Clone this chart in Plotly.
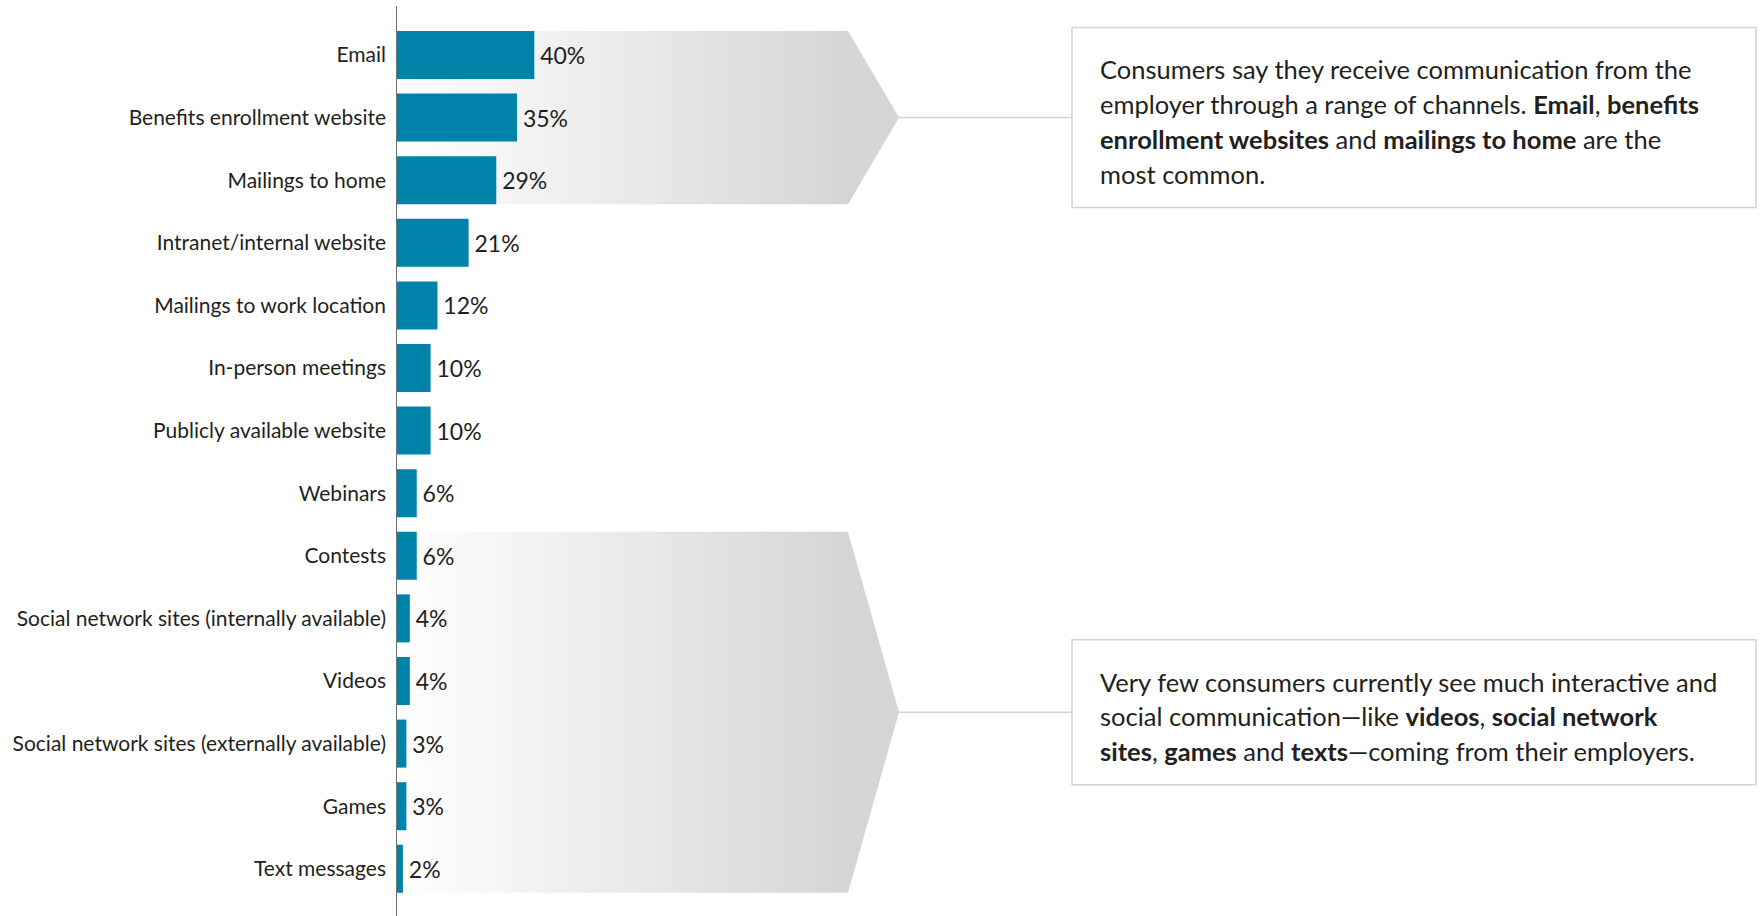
import plotly.graph_objects as go

# Share of consumers receiving employer communication via each channel (%)
categories = [
    "Email",
    "Benefits enrollment website",
    "Mailings to home",
    "Intranet/internal website",
    "Mailings to work location",
    "In-person meetings",
    "Publicly available website",
    "Webinars",
    "Contests",
    "Social network sites (internally available)",
    "Videos",
    "Social network sites (externally available)",
    "Games",
    "Text messages",
]
shares = [40, 35, 29, 21, 12, 10, 10, 6, 6, 4, 4, 3, 3, 2]
share_labels = [f"{v}%" for v in shares]

# Category index ranges highlighted by the chevrons
groups = [(0, 2), (8, 13)]

callout_top = [
    "Consumers say they receive communication from the",
    "employer through a range of channels. <b>Email</b>, <b>benefits</b>",
    "<b>enrollment websites</b> and <b>mailings to home</b> are the",
    "most common.",
]
callout_bottom = [
    "Very few consumers currently see much interactive and",
    "social communication\u2014like <b>videos</b>, <b>social network</b>",
    "<b>sites</b>, <b>games</b> and <b>texts</b>\u2014coming from their employers.",
]
callouts = [callout_top, callout_bottom]
box_half_px = [90, 72.5]

# ---- page geometry (pixels) ----
W, H = 1762, 916
PLOT_LEFT = 396
PX_PER_PCT = 3.458
ROW_PX = 62.6
FIRST_ROW_PX = 55
BAR_W = 0.767

x_max = (W - PLOT_LEFT) / PX_PER_PCT
y_range = [(H - FIRST_ROW_PX) / ROW_PX, -FIRST_ROW_PX / ROW_PX]


def px_to_x(px):
    return (px - PLOT_LEFT) / PX_PER_PCT


BODY_END = px_to_x(848)
TIP = px_to_x(899)
BOX_LEFT_PX, BOX_RIGHT_PX = 1072, 1756
TEXT_LEFT_PX = 1098
LINE_PX = 34.8

BAR_COLOR = "#0083A9"
TEXT_COLOR = "#231F20"
FRAME_COLOR = "#D1D3D4"
LABEL_FONT = "Lato, Liberation Sans, sans-serif"
BODY_FONT = "Lato, Noto Sans, sans-serif"
LABEL_SIZE = 21
VALUE_SIZE = 23
BODY_SIZE = 25.5

fig = go.Figure()

# Gradient chevrons behind the bar groups (base subplot)
for a, b in groups:
    top = a - BAR_W / 2
    bot = b + BAR_W / 2
    mid = (top + bot) / 2
    fig.add_trace(go.Scatter(
        x=[0, BODY_END, TIP, BODY_END, 0, 0],
        y=[top, top, mid, bot, bot, top],
        mode="lines",
        line=dict(width=0, color="rgba(0,0,0,0)"),
        fill="toself",
        fillgradient=dict(
            type="horizontal",
            colorscale=[[0, "#FFFFFF"], [1, "#D4D5D7"]],
            start=0,
            stop=BODY_END,
        ),
        hoverinfo="skip",
        showlegend=False,
        xaxis="x",
        yaxis="y",
    ))

ypos = list(range(len(categories)))

# Bars on an overlaid subplot so they sit on top of the chevrons
fig.add_trace(go.Bar(
    x=shares,
    y=ypos,
    orientation="h",
    width=BAR_W,
    marker=dict(color=BAR_COLOR, line=dict(width=0)),
    text=share_labels,
    texttemplate="\u2009%{text}",
    textposition="outside",
    textfont=dict(family=LABEL_FONT, size=VALUE_SIZE, color=TEXT_COLOR),
    cliponaxis=False,
    hovertemplate="%{customdata}: %{x}%<extra></extra>",
    customdata=categories,
    showlegend=False,
    xaxis="x2",
    yaxis="y2",
))

shapes = [
    # vertical baseline of the bars
    dict(type="line", xref="x", yref="paper", x0=0, x1=0, y0=0, y1=1 - 6 / H,
         line=dict(color="#6D6E71", width=2), layer="above"),
]
annotations = []

for (a, b), lines, half in zip(groups, callouts, box_half_px):
    top = a - BAR_W / 2
    bot = b + BAR_W / 2
    mid = (top + bot) / 2
    # connector from chevron tip to callout box
    shapes.append(dict(type="line", xref="x", yref="y", x0=TIP, x1=px_to_x(BOX_LEFT_PX),
                       y0=mid, y1=mid, line=dict(color=FRAME_COLOR, width=1.5), layer="below"))
    shapes.append(dict(type="rect", xref="x", yref="y",
                       x0=px_to_x(BOX_LEFT_PX), x1=px_to_x(BOX_RIGHT_PX),
                       y0=mid - half / ROW_PX, y1=mid + half / ROW_PX,
                       line=dict(color=FRAME_COLOR, width=1.5), fillcolor="white", layer="below"))
    n = len(lines)
    for i, line in enumerate(lines):
        y_line = mid + ((i - (n - 1) / 2) * LINE_PX + 4) / ROW_PX
        annotations.append(dict(
            xref="x", yref="y", x=px_to_x(TEXT_LEFT_PX), y=y_line,
            xanchor="left", yanchor="middle", showarrow=False, align="left",
            text=line,
            font=dict(family=BODY_FONT, size=BODY_SIZE, color=TEXT_COLOR, weight=400),
        ))

fig.update_layout(
    width=W,
    height=H,
    margin=dict(l=PLOT_LEFT, r=0, t=0, b=0, autoexpand=False),
    paper_bgcolor="white",
    plot_bgcolor="white",
    showlegend=False,
    shapes=shapes,
    annotations=annotations,
    xaxis=dict(range=[0, x_max], visible=False, fixedrange=True, automargin=False),
    yaxis=dict(
        range=y_range,
        tickmode="array",
        tickvals=ypos,
        ticktext=categories,
        ticks="",
        ticklabelstandoff=9,
        showgrid=False,
        zeroline=False,
        showline=False,
        automargin=False,
        tickfont=dict(family=LABEL_FONT, size=LABEL_SIZE, color=TEXT_COLOR),
        fixedrange=True,
    ),
    xaxis2=dict(range=[0, x_max], visible=False, overlaying="x", anchor="y2",
                fixedrange=True, automargin=False),
    yaxis2=dict(range=y_range, visible=False, overlaying="y", anchor="x2",
                fixedrange=True, automargin=False),
)

fig.write_html("out.html")
